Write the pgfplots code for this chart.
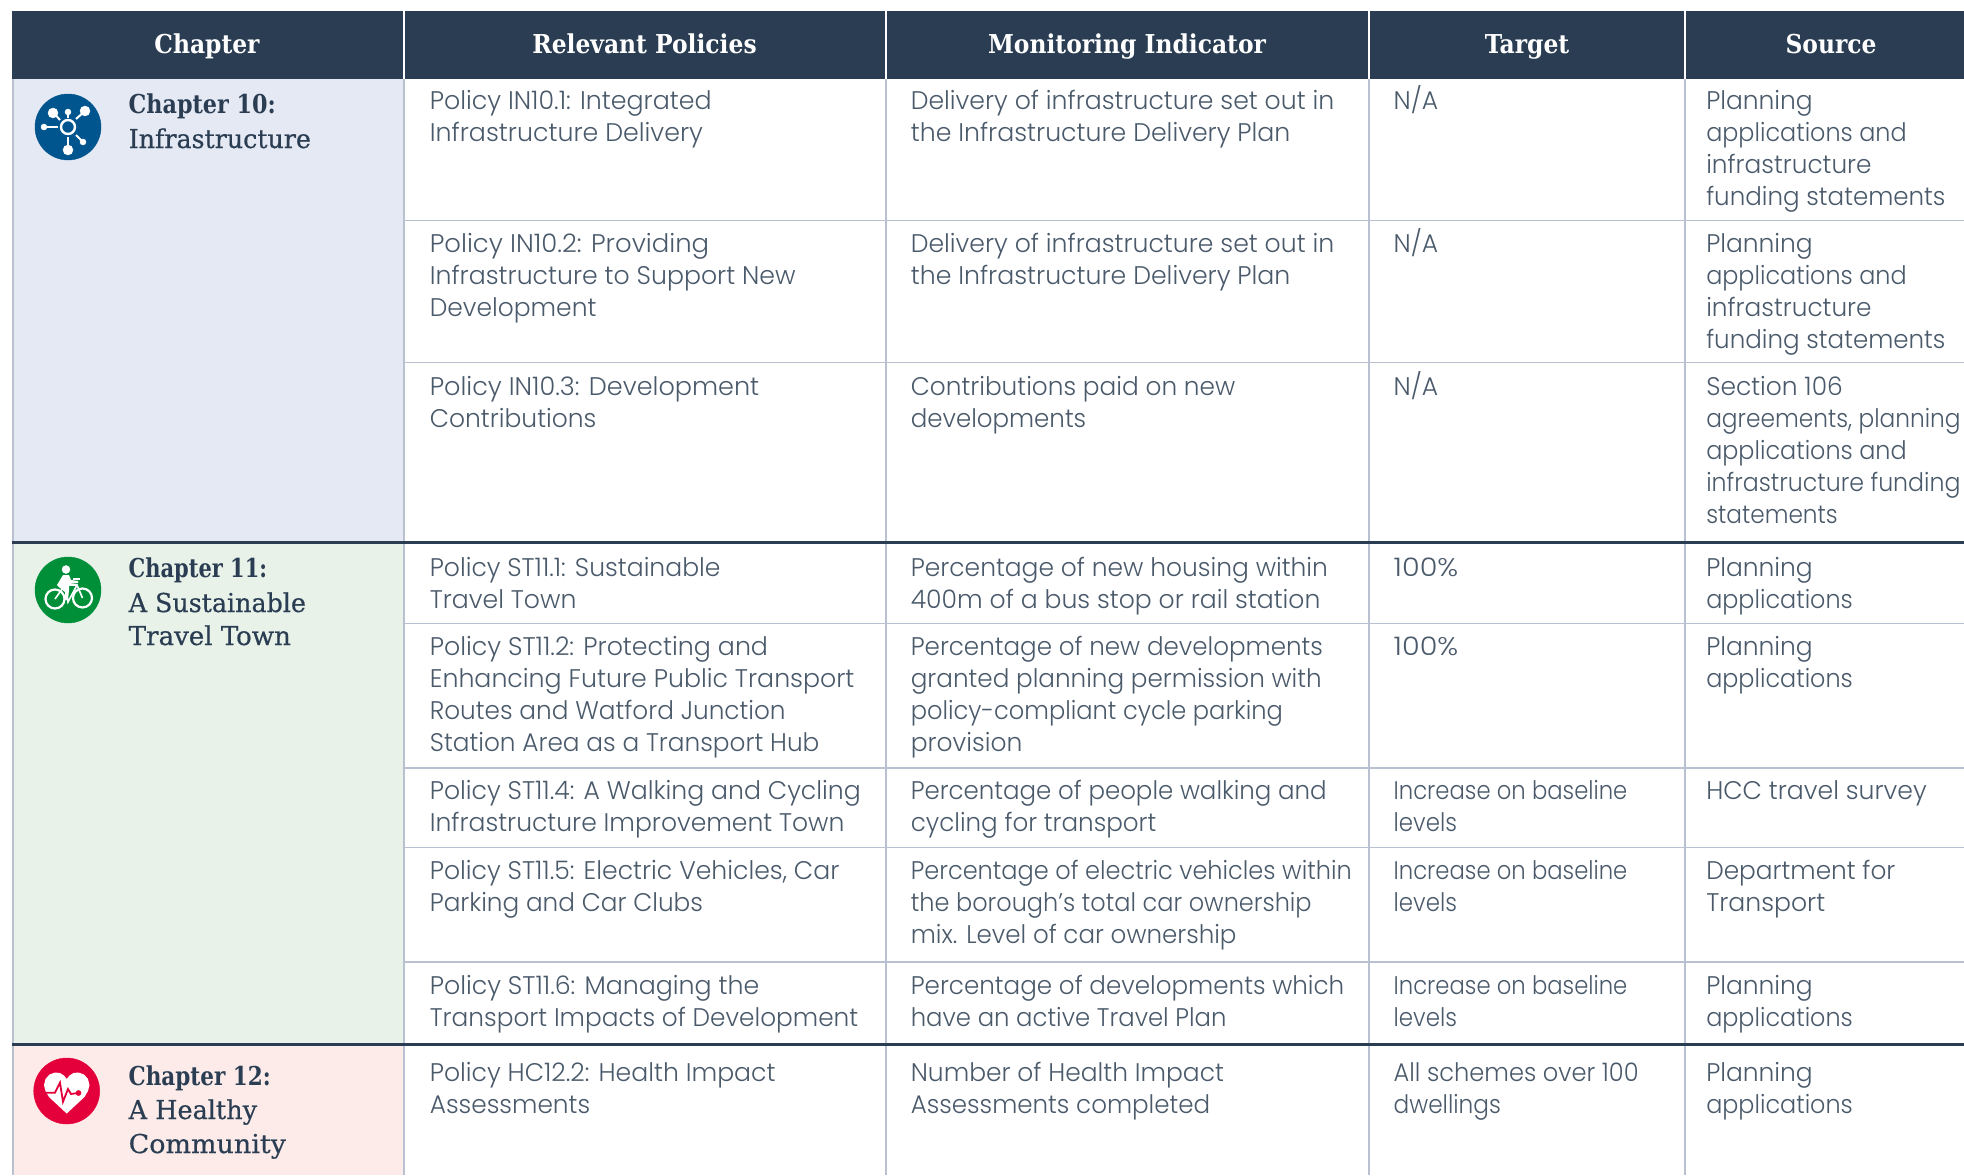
\documentclass[border=0pt]{standalone}
\usepackage{pgfplots}
\usepackage{fontspec}
\pgfplotsset{compat=1.18}
\setmainfont{Poppins Light}
\newfontfamily\slabb{DejaVu Serif Condensed Bold}
\newfontfamily\slabr[FakeBold=0.5]{DejaVu Serif Condensed}
\definecolor{navy}{HTML}{2A3D52}
\definecolor{rule}{HTML}{B9C0D0}
\definecolor{txt}{HTML}{4A5A6B}
\definecolor{cA}{HTML}{E5E9F4}
\definecolor{cB}{HTML}{E8F2E9}
\definecolor{cC}{HTML}{FCEBE9}
\definecolor{iA}{HTML}{00558F}
\definecolor{iB}{HTML}{008F39}
\definecolor{iC}{HTML}{E4003A}
% start x, baseline y, end x, text (x in 1568-wide display units, y in full pixels)
\newcommand{\T}[4]{\node[anchor=base west,inner sep=0pt,text=txt,font=\fontsize{25.5}{32}\selectfont] at (axis cs:{#1*1.2526},{#2-1}) {\pgfmathsetlengthmacro\wd@x{(#3-#1)*1.2526}\resizebox{\wd@x}{\height}{#4}};}
\makeatletter
\renewcommand{\T}[4]{\node[anchor=base west,inner sep=0pt,text=txt,font=\fontsize{25.5}{32}\selectfont] at (axis cs:{#1*1.2526},{#2-1}) {\pgfmathsetlengthmacro\tw{(#3-#1)*1.2526}\resizebox{\tw}{\height}{#4}};}
\makeatother
\newcommand{\HD}[2]{\node[anchor=base,inner sep=0pt,text=white,font=\fontsize{26}{32}\slabb\selectfont] at (axis cs:#1,53) {#2};}
\newcommand{\CB}[3]{\node[anchor=base west,inner sep=0pt,text=navy,font=\fontsize{26}{32}\slabb\selectfont] at (axis cs:128.5,#1) {\pgfmathsetlengthmacro\tw{(#2-102.5)*1.2526}\resizebox{\tw}{\height}{#3}};}
\newcommand{\CR}[3]{\node[anchor=base west,inner sep=0pt,text=navy,font=\fontsize{26}{32}\slabr\selectfont] at (axis cs:128.5,#1) {\pgfmathsetlengthmacro\tw{(#2-102.5)*1.2526}\resizebox{\tw}{\height}{#3}};}
\begin{document}
\begin{tikzpicture}
\begin{axis}[hide axis,scale only axis,width=1964pt,height=1175pt,
  xmin=0,xmax=1964,ymin=0,ymax=1175,y dir=reverse,clip mode=individual]
% backgrounds
\addplot[fill=white,draw=none] coordinates {(0,0)(1964,0)(1964,1175)(0,1175)} -- cycle;
\addplot[fill=navy,draw=none] coordinates {(12,11)(1964,11)(1964,79)(12,79)} -- cycle;
\addplot[fill=cA,draw=none] coordinates {(12,79)(404,79)(404,542)(12,542)} -- cycle;
\addplot[fill=cB,draw=none] coordinates {(12,542)(404,542)(404,1044)(12,1044)} -- cycle;
\addplot[fill=cC,draw=none] coordinates {(12,1044)(404,1044)(404,1175)(12,1175)} -- cycle;
% light rules
\addplot[rule,line width=1.4pt] coordinates {(13,79)(13,1175)};
\addplot[rule,line width=1.4pt] coordinates {(404,79)(404,1175)};
\addplot[rule,line width=1.4pt] coordinates {(886,79)(886,1175)};
\addplot[rule,line width=1.4pt] coordinates {(1369,79)(1369,1175)};
\addplot[rule,line width=1.4pt] coordinates {(1685,79)(1685,1175)};
\addplot[rule,line width=1.4pt] coordinates {(404,220.5)(1964,220.5)};
\addplot[rule,line width=1.4pt] coordinates {(404,362.5)(1964,362.5)};
\addplot[rule,line width=1.4pt] coordinates {(404,623.5)(1964,623.5)};
\addplot[rule,line width=1.4pt] coordinates {(404,768)(1964,768)};
\addplot[rule,line width=1.4pt] coordinates {(404,847.5)(1964,847.5)};
\addplot[rule,line width=1.4pt] coordinates {(404,962)(1964,962)};
% white header separators
\addplot[white,line width=1.2pt] coordinates {(404,11)(404,79)};
\addplot[white,line width=1.2pt] coordinates {(886,11)(886,79)};
\addplot[white,line width=1.2pt] coordinates {(1369,11)(1369,79)};
\addplot[white,line width=1.2pt] coordinates {(1685,11)(1685,79)};
% dark rules
\addplot[navy,line width=3pt] coordinates {(12,542)(1964,542)};
\addplot[navy,line width=3pt] coordinates {(12,1044)(1964,1044)};
% icon 1
\addplot[only marks,mark=*,mark size=33pt,color=iA] coordinates {(68,127)};
\addplot[white,line width=2pt] coordinates {(60,120)(53,112)};
\addplot[white,line width=2pt] coordinates {(68,118)(68,112)};
\addplot[white,line width=2pt] coordinates {(76,119)(85,111)};
\addplot[white,line width=2pt] coordinates {(58,127)(44,127)};
\addplot[white,line width=2pt] coordinates {(76,135)(83,142)};
\addplot[white,line width=2pt] coordinates {(68,137)(68,150)};
\addplot[only marks,mark=*,mark size=5pt,color=white] coordinates {(53,113)(85,111)(68,150)};
\addplot[only marks,mark=*,mark size=3pt,color=white] coordinates {(68,112)(44,127)(83,142)};
\addplot[only marks,mark=*,mark size=7pt,mark options={draw=white,fill=iA,line width=2.4pt}] coordinates {(68,127)};
% icon 2
\addplot[only marks,mark=*,mark size=33pt,color=iB] coordinates {(68,590)};
\addplot[only marks,mark=*,mark size=9.5pt,mark options={draw=white,fill=iB,line width=2.2pt}] coordinates {(55,599)(82.5,598)};
\addplot[only marks,mark=*,mark size=4pt,color=white] coordinates {(66,569.5)};
\addplot[fill=white,draw=none] coordinates {(63,575)(69,575)(71,580)(78,581)(78,583)(69,584)(69,590)(68,600)(65,600)(65,592)(60,588)(57,585)} -- cycle;
\addplot[white,line width=1.6pt] coordinates {(55,599)(65,585)(77,585)(82.5,598)};
\addplot[white,line width=1.6pt] coordinates {(65,585)(68,602)(77,585)};
\addplot[white,line width=1.6pt] coordinates {(73,579)(80,579)};
% icon 3
\addplot[only marks,mark=*,mark size=33pt,color=iC] coordinates {(66.7,1091)};
\addplot[fill=white,draw=none] coordinates {(66.7,1113.5)(49,1097)(45.5,1091)(44,1085)(45.5,1079)(49.5,1074.5)(55,1072.5)(60,1073)(64,1075.5)(66.7,1079)(69.5,1075.5)(73.5,1073)(78.5,1072.5)(84,1074.5)(88,1079)(89.5,1085)(88,1091)(84.5,1097)} -- cycle;
\addplot[iC,line width=1.8pt] coordinates {(46,1092.7)(55,1092.7)(60,1082.7)(63,1101.7)(68,1089)(71,1094)(78,1093)};
\addplot[only marks,mark=*,mark size=2.6pt,color=iC] coordinates {(78.5,1093)};
% header
\HD{207}{Chapter}
\HD{644.5}{Relevant Policies}
\HD{1127}{Monitoring Indicator}
\HD{1527}{Target}
\HD{1831}{Source}
% chapter column
\CB{113}{220}{Chapter 10:}
\CR{148}{248}{Infrastructure}
\CB{577}{213}{Chapter 11:}
\CR{612}{244}{A Sustainable}
\CR{645}{232}{Travel Town}
\CB{1085}{216}{Chapter 12:}
\CR{1119}{205}{A Healthy}
\CR{1153}{228}{Community}
% row 1
\T{343}{110}{568}{Policy IN10.1: Integrated}
\T{343}{142}{561}{Infrastructure Delivery}
\T{727}{110}{1065}{Delivery of infrastructure set out in}
\T{727}{142}{1030}{the Infrastructure Delivery Plan}
\T{1112.5}{110}{1148}{N/A}
\T{1362}{110}{1447}{Planning}
\T{1362}{142}{1522}{applications and}
\T{1362}{174}{1494}{infrastructure}
\T{1362}{206}{1553}{funding statements}
% row 2
\T{343}{253}{566}{Policy IN10.2: Providing}
\T{343}{285}{635}{Infrastructure to Support New}
\T{343}{317}{476}{Development}
\T{727}{253}{1065}{Delivery of infrastructure set out in}
\T{727}{285}{1030}{the Infrastructure Delivery Plan}
\T{1112.5}{253}{1148}{N/A}
\T{1362}{253}{1447}{Planning}
\T{1362}{285}{1522}{applications and}
\T{1362}{317}{1494}{infrastructure}
\T{1362}{349}{1553}{funding statements}
% row 3
\T{343}{396}{606}{Policy IN10.3: Development}
\T{343}{428}{476}{Contributions}
\T{727}{396}{986}{Contributions paid on new}
\T{727}{428}{867}{developments}
\T{1112.5}{396}{1148}{N/A}
\T{1362}{396}{1471}{Section 106}
\T{1362}{428}{1565}{agreements, planning}
\T{1362}{460}{1522}{applications and}
\T{1362}{492}{1565}{infrastructure funding}
\T{1362}{524}{1467}{statements}
% row 4
\T{343}{577}{575}{Policy ST11.1: Sustainable}
\T{343}{609}{460}{Travel Town}
\T{727}{577}{1060}{Percentage of new housing within}
\T{727}{609}{1054}{400m of a bus stop or rail station}
\T{1112.5}{577}{1164}{100\%}
\T{1362}{577}{1447}{Planning}
\T{1362}{609}{1479}{applications}
% row 5
\T{343}{656}{613}{Policy ST11.2: Protecting and}
\T{343}{688}{682}{Enhancing Future Public Transport}
\T{343}{720}{627}{Routes and Watford Junction}
\T{343}{752}{654}{Station Area as a Transport Hub}
\T{727}{656}{1056}{Percentage of new developments}
\T{727}{688}{1055}{granted planning permission with}
\T{727}{720}{1024}{policy-compliant cycle parking}
\T{727}{752}{816}{provision}
\T{1112.5}{656}{1164}{100\%}
\T{1362}{656}{1447}{Planning}
\T{1362}{688}{1479}{applications}
% row 6
\T{343}{800}{687}{Policy ST11.4: A Walking and Cycling}
\T{343}{832}{674}{Infrastructure Improvement Town}
\T{727}{800}{1059}{Percentage of people walking and}
\T{727}{832}{923}{cycling for transport}
\T{1112.5}{800}{1299}{Increase on baseline}
\T{1112.5}{832}{1163}{levels}
\T{1362}{800}{1538}{HCC travel survey}
% row 7
\T{343}{880}{670}{Policy ST11.5: Electric Vehicles, Car}
\T{343}{912}{561}{Parking and Car Clubs}
\T{727}{880}{1079}{Percentage of electric vehicles within}
\T{727}{912}{1047}{the borough’s total car ownership}
\T{727}{944}{987}{mix. Level of car ownership}
\T{1112.5}{880}{1299}{Increase on baseline}
\T{1112.5}{912}{1163}{levels}
\T{1362}{880}{1513}{Department for}
\T{1362}{912}{1457}{Transport}
% row 8
\T{343}{995}{606}{Policy ST11.6: Managing the}
\T{343}{1027}{685}{Transport Impacts of Development}
\T{727}{995}{1073}{Percentage of developments which}
\T{727}{1027}{979}{have an active Travel Plan}
\T{1112.5}{995}{1299}{Increase on baseline}
\T{1112.5}{1027}{1163}{levels}
\T{1362}{995}{1447}{Planning}
\T{1362}{1027}{1479}{applications}
% row 9
\T{343}{1082}{619}{Policy HC12.2: Health Impact}
\T{343}{1114}{471}{Assessments}
\T{727}{1082}{977}{Number of Health Impact}
\T{727}{1114}{966}{Assessments completed}
\T{1112.5}{1082}{1308}{All schemes over 100}
\T{1112.5}{1114}{1198}{dwellings}
\T{1362}{1082}{1447}{Planning}
\T{1362}{1114}{1479}{applications}
\end{axis}
\end{tikzpicture}
\end{document}
